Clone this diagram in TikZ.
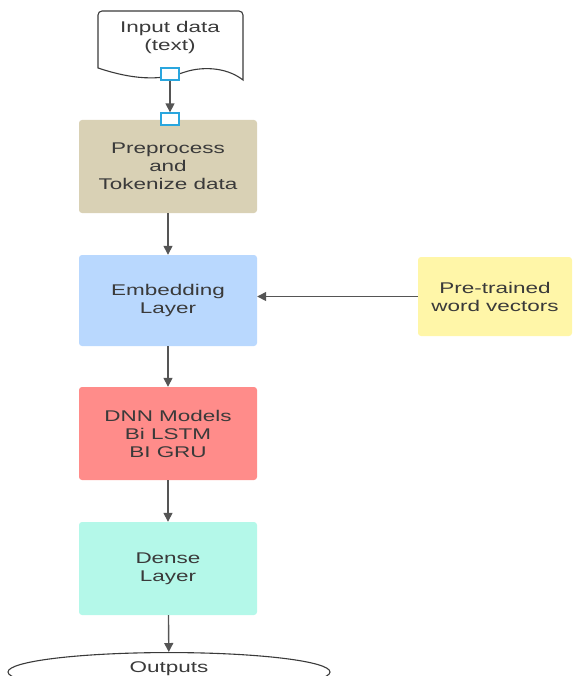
\documentclass[tikz,border=0pt]{standalone}
\usepackage{fontspec}
\setmainfont{Liberation Sans}
\newfontfamily\widefont[FakeStretch=1.45]{Liberation Sans}
\usetikzlibrary{shapes.geometric,arrows.meta}
\definecolor{txt}{HTML}{3A3A3A}
\definecolor{arr}{HTML}{555555}
\definecolor{tanfill}{HTML}{D9D1B5}
\definecolor{bluefill}{HTML}{B9D8FE}
\definecolor{redfill}{HTML}{FF8C8A}
\definecolor{tealfill}{HTML}{B4F8E9}
\definecolor{yelfill}{HTML}{FFF6A8}
\definecolor{portc}{HTML}{2AA6DE}
\tikzset{
  x=1pt, y=-1pt,
  lbl/.style={text=txt, align=center, font=\widefont\fontsize{15.5}{18}\selectfont},
  box/.style={lbl, draw=none, rounded corners=3pt, minimum width=178pt, minimum height=93pt},
  port/.style={draw=portc, fill=white, line width=1.3pt, minimum width=18pt, minimum height=12pt, inner sep=0pt},
  conn/.style={draw=arr, line width=1.4pt, -{Triangle[length=9pt,width=9pt]}}
}
\begin{document}
\begin{tikzpicture}
\useasboundingbox (0,0) rectangle (572,676);
% document shape
\draw[txt, line width=1.1pt] (98,68) [rounded corners=4pt] -- (98,11) -- (243,11) [sharp corners] -- (243,80)
  .. controls (225,66) and (200,67) .. (185,72)
  .. controls (165,79) and (140,82) .. (98,68) -- cycle;
\node[lbl] (input) at (170,37) {Input data\\(text)};
\node[box, fill=tanfill] (pre) at (168,166.5) {Preprocess\\and\\Tokenize data};
\node[port] (p1) at (170,74) {};
\node[port] (p2) at (170,119) {};
\node[box, fill=bluefill, minimum height=91pt] (emb) at (168,300.5) {Embedding\\Layer};
\node[box, fill=redfill] (dnn) at (168,433.5) {DNN Models\\Bi LSTM\\BI GRU};
\node[box, fill=tealfill] (dense) at (168,568.5) {Dense\\Layer};
\node[box, fill=yelfill, minimum width=154pt, minimum height=79pt] (pt) at (495,296.5) {Pre-trained\\word vectors};
\node[draw=txt, line width=1.1pt, ellipse, minimum width=322pt, minimum height=36pt, lbl, text depth=10pt] (out) at (169,672) {Outputs};
\draw[conn] (p1) -- (p2);
\draw[conn] (pre) -- (emb);
\draw[conn] (emb) -- (dnn);
\draw[conn] (dnn) -- (dense);
\draw[conn] (dense) -- (out);
\draw[conn] (pt.west) -- (emb.east |- pt.west);
\end{tikzpicture}
\end{document}
